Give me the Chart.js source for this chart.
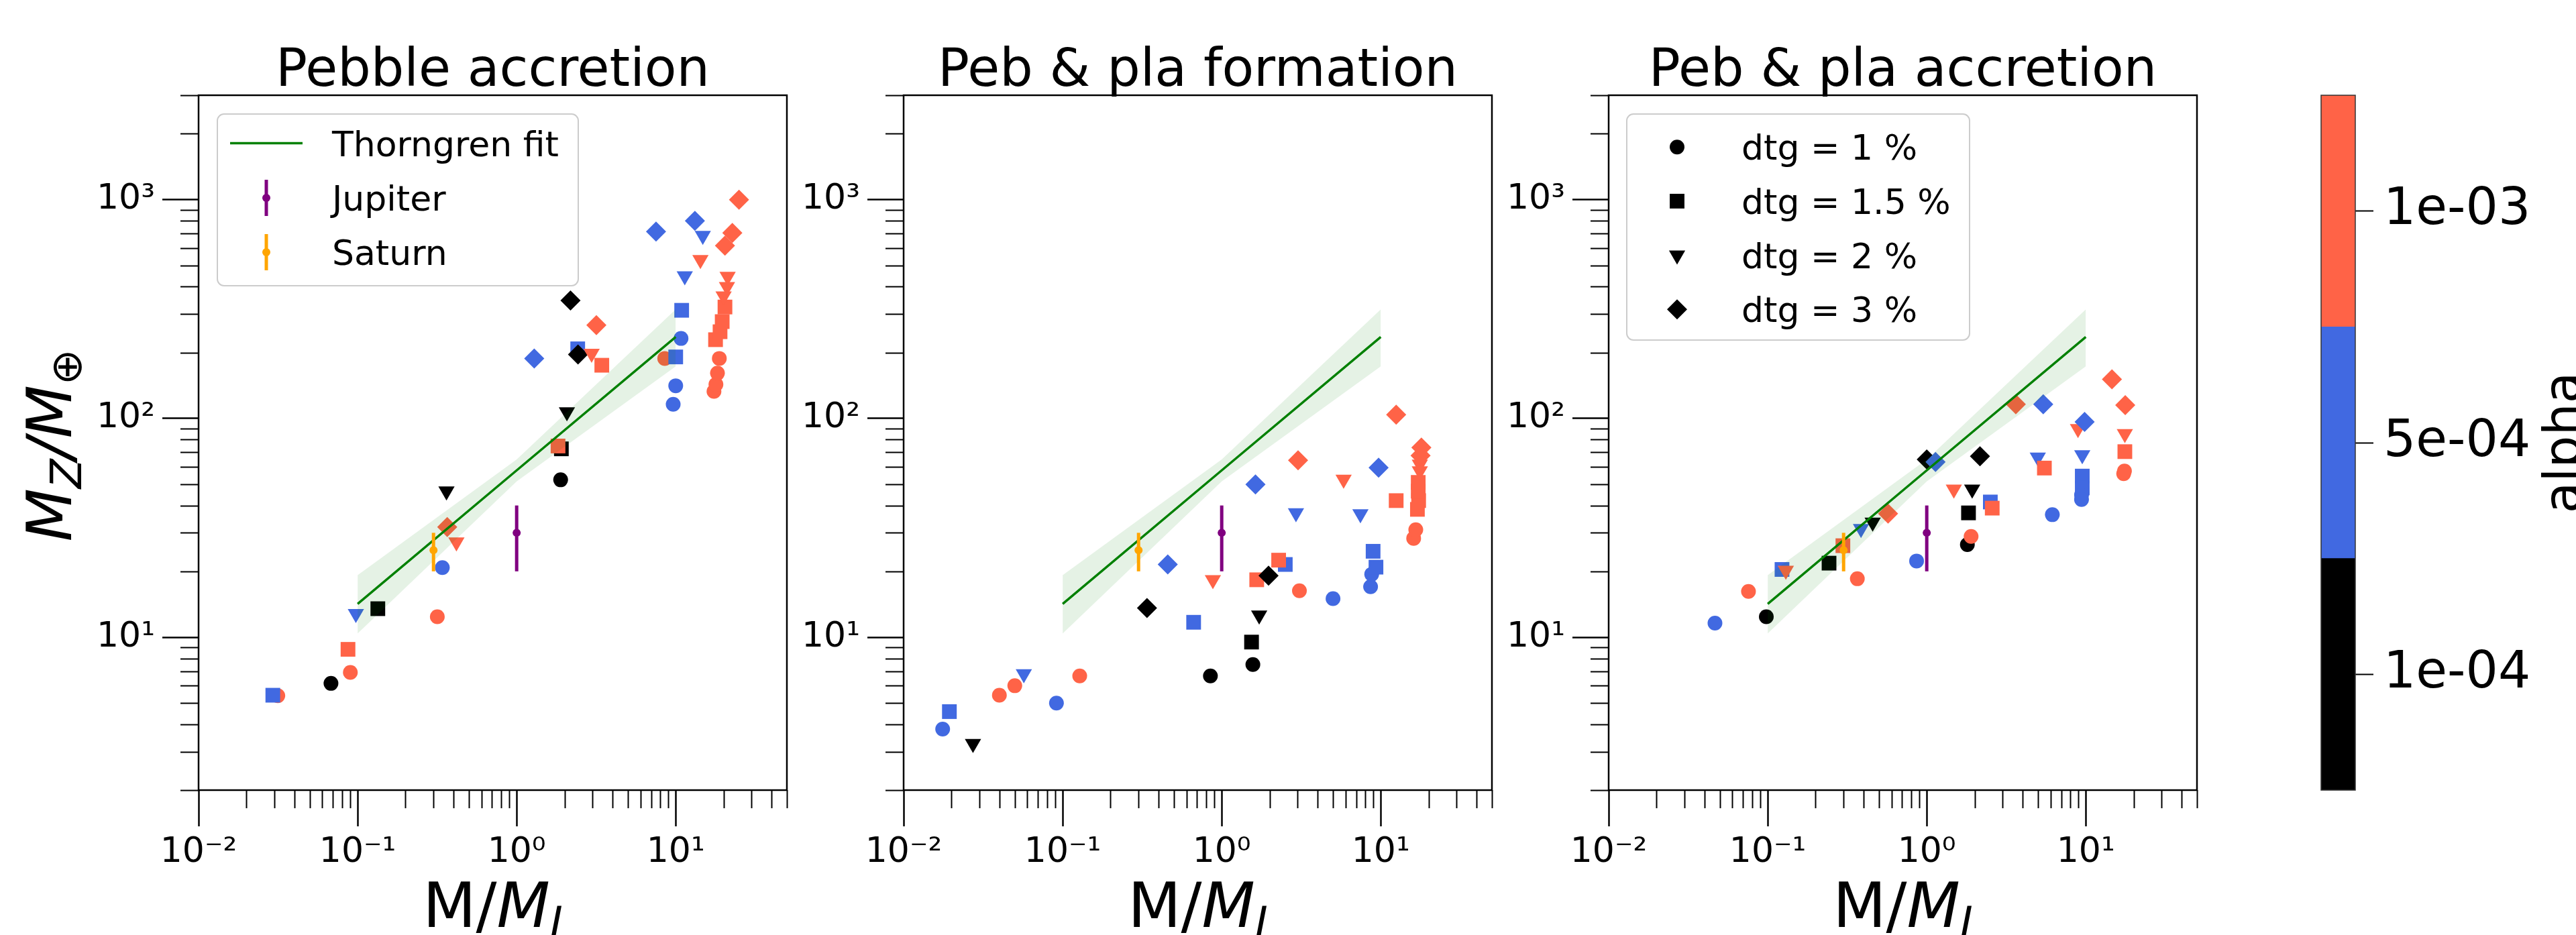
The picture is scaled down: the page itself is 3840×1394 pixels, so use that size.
<!DOCTYPE html>
<html lang="en">
<head>
<meta charset="UTF-8">
<title>Metal mass vs planet mass</title>
<script src="https://cdn.jsdelivr.net/npm/chart.js"></script>
<style>
  html, body { margin: 0; padding: 0; background: #fff; }
  #wrap { position: relative; width: 3840px; height: 1394px; overflow: hidden; background: #fff; }
  canvas { position: absolute; top: 0; }
</style>
</head>
<body>
<div id="wrap">
  <canvas id="p1" width="1213" height="1394" style="left:0px"></canvas>
  <canvas id="p2" width="1213" height="1394" style="left:1051px"></canvas>
  <canvas id="p3" width="1213" height="1394" style="left:2102px"></canvas>
  <canvas id="cbar" width="440" height="1394" style="left:3400px"></canvas>
</div>
<script>
// ---------- data ----------
const panelTitles = ['Pebble accretion', 'Peb & pla formation', 'Peb & pla accretion'];
const alphaLabels = ['1e-04', '5e-04', '1e-03'];
const dtgLabels = ['dtg = 1 %', 'dtg = 1.5 %', 'dtg = 2 %', 'dtg = 3 %'];

const xTicks = [0.01, 0.1, 1, 10];
const xTickLabels = ['10⁻²', '10⁻¹', '10⁰', '10¹'];
const yTicks = [10, 100, 1000];
const yTickLabels = ['10¹', '10²', '10³'];
const xMinor = [0.02, 0.03, 0.04, 0.05, 0.06, 0.07, 0.08, 0.09,
                0.2, 0.3, 0.4, 0.5, 0.6, 0.7, 0.8, 0.9,
                2, 3, 4, 5, 6, 7, 8, 9, 20, 30, 40, 50];
const yMinor = [2, 3, 4, 5, 6, 7, 8, 9, 20, 30, 40, 50, 60, 70, 80, 90,
                200, 300, 400, 500, 600, 700, 800, 900, 2000, 3000];

// Thorngren fit and its uncertainty band
const fitMass  = [0.1, 1, 10];
const fitMz    = [14.2, 57.9, 235.8];
const fitUpper = [19.2, 64.9, 315];
const fitLower = [10.4, 51.5, 173];

// Jupiter and Saturn
const planetNames = ['Jupiter', 'Saturn'];
const planetMass  = [1, 0.3];
const planetMz    = [30, 25];
const planetErr   = [10, 5];

// panel 1: pebble accretion (alpha / dtg are indices into alphaLabels / dtgLabels)
const pebMass  = [0.0315, 0.0293, 0.068, 0.090, 0.087, 0.0975, 0.134, 0.317, 0.341, 0.362, 0.366, 0.418,
                  1.89, 1.91, 1.82, 2.07, 1.29, 2.42, 2.43, 2.18, 2.96, 3.17, 3.43,
                  7.52, 9.64, 10.0, 8.53, 10.0, 10.8, 10.9, 11.4, 13.2, 14.8, 14.3,
                  17.4, 17.9, 18.3, 18.8, 17.8, 19.0, 19.6, 20.4, 20.0, 21.0, 21.2, 20.4, 22.7, 25.0];
const pebMz    = [5.4, 5.43, 6.15, 6.9, 8.8, 12.8, 13.5, 12.4, 20.8, 46.5, 31.9, 27.2,
                  52.4, 72.6, 74.8, 107, 188, 208, 196, 346, 198, 267, 175,
                  714, 116, 141, 188, 191, 232, 312, 448, 800, 685, 531,
                  133, 143, 161, 188, 229, 249, 277, 323, 362, 400, 445, 616, 705, 1000];
const pebAlpha = [2, 1, 0, 2, 2, 1, 0, 2, 1, 0, 2, 2,
                  0, 0, 2, 0, 1, 1, 0, 0, 2, 2, 2,
                  1, 1, 1, 2, 1, 1, 1, 1, 1, 1, 2,
                  2, 2, 2, 2, 2, 2, 2, 2, 2, 2, 2, 2, 2, 2];
const pebDtg   = [0, 1, 0, 0, 1, 2, 1, 0, 0, 2, 3, 2,
                  0, 1, 1, 2, 3, 1, 3, 3, 2, 3, 1,
                  3, 0, 0, 0, 1, 0, 1, 2, 3, 2, 2,
                  0, 0, 0, 0, 1, 1, 1, 1, 2, 2, 2, 3, 3, 3];

// panel 2: pebble & planetesimal formation
const pfMass  = [0.0176, 0.0194, 0.0273, 0.040, 0.050, 0.057, 0.0914, 0.128, 0.339, 0.458, 0.666, 0.849,
                 0.88, 1.54, 1.57, 1.72, 1.63, 2.51, 2.28, 1.66, 1.97, 3.08, 2.93, 3.02,
                 5.01, 5.84, 7.45, 8.63, 8.77, 9.33, 8.95, 9.69, 12.5, 12.5,
                 16.1, 16.6, 17.0, 17.3, 17.2, 17.2, 17.6, 17.6, 17.8, 18.0];
const pfMz    = [3.80, 4.57, 3.26, 5.43, 6.0, 6.8, 5.0, 6.65, 13.6, 21.5, 11.7, 6.65,
                 18.3, 9.5, 7.5, 12.6, 49.9, 21.5, 22.5, 18.3, 19.1, 16.3, 37.0, 64.4,
                 15.0, 52.6, 36.6, 17.0, 19.4, 20.9, 24.7, 59.6, 42.1, 104,
                 28.3, 31.0, 38.4, 42.1, 46.5, 51.0, 57.5, 61.7, 67.6, 73.6];
const pfAlpha = [1, 1, 0, 2, 2, 1, 1, 2, 0, 1, 1, 0,
                 2, 0, 0, 0, 1, 1, 2, 2, 0, 2, 1, 2,
                 1, 2, 1, 1, 1, 1, 1, 1, 2, 2,
                 2, 2, 2, 2, 2, 2, 2, 2, 2, 2];
const pfDtg   = [0, 1, 2, 0, 0, 2, 0, 0, 3, 3, 1, 0,
                 2, 1, 0, 2, 3, 1, 1, 1, 3, 0, 2, 3,
                 0, 2, 2, 0, 0, 1, 1, 3, 1, 3,
                 0, 0, 1, 1, 1, 1, 2, 2, 3, 3];

// panel 3: pebble & planetesimal accretion
const paMass  = [0.0466, 0.0757, 0.098, 0.123, 0.130, 0.243, 0.297, 0.366, 0.386, 0.457, 0.571, 0.863,
                 1.0, 1.135, 1.48, 1.80, 1.90, 1.83, 1.93, 2.16, 2.51, 2.58, 3.63,
                 4.99, 5.49, 5.40, 6.16, 8.93, 9.83, 9.5, 9.5, 9.5, 9.4, 9.4,
                 14.6, 17.7, 17.6, 17.6, 17.3, 17.5];
const paMz    = [11.6, 16.2, 12.4, 20.4, 20.2, 21.8, 26.2, 18.5, 31.3, 33.5, 36.7, 22.3,
                 64.9, 63.2, 47.4, 26.5, 28.9, 37.0, 47.4, 67.2, 41.5, 38.9, 116,
                 66.4, 59.3, 116, 36.3, 89.6, 96.4, 68.1, 54.5, 48.1, 44.7, 42.6,
                 151, 115, 85.0, 70.5, 55.9, 57.5];
const paAlpha = [1, 2, 0, 1, 2, 0, 2, 2, 1, 0, 2, 1,
                 0, 1, 2, 0, 2, 0, 0, 0, 1, 2, 2,
                 1, 2, 1, 1, 2, 1, 1, 1, 1, 1, 1,
                 2, 2, 2, 2, 2, 2];
const paDtg   = [0, 0, 0, 1, 2, 1, 1, 0, 2, 2, 3, 0,
                 3, 3, 2, 0, 0, 1, 2, 3, 1, 1, 3,
                 2, 1, 3, 0, 2, 3, 2, 1, 1, 0, 0,
                 3, 3, 2, 1, 0, 0];

// ---------- styles ----------
const FONT = '"DejaVu Sans", "Liberation Sans", sans-serif';
const alphaColors = ['#000000', '#4169e1', '#ff6347'];
const planetColors = ['#800080', '#ffa500'];
const markerStyle = ['circle', 'rect', 'triangle', 'rectRot'];
const markerRadius = [11, 15.5, 14, 15];
const markerRotation = [0, 0, 180, 0];

function drawMarker(ctx, k, x, y, color) {
  ctx.save();
  ctx.fillStyle = color;
  Chart.helpers.drawPoint(ctx, {
    pointStyle: markerStyle[k], radius: markerRadius[k],
    rotation: markerRotation[k], borderWidth: 0
  }, x, y);
  ctx.restore();
}

function drawRuns(ctx, runs, x, y) {
  let w = 0;
  runs.forEach(r => { ctx.font = r.font; w += ctx.measureText(r.text).width; });
  let cx = x - w / 2;
  runs.forEach(r => {
    ctx.font = r.font;
    ctx.fillText(r.text, cx, y + (r.dy || 0));
    cx += ctx.measureText(r.text).width;
  });
}

function roundBox(ctx, x, y, w, h, r) {
  ctx.beginPath();
  ctx.moveTo(x + r, y);
  ctx.arcTo(x + w, y, x + w, y + h, r);
  ctx.arcTo(x + w, y + h, x, y + h, r);
  ctx.arcTo(x, y + h, x, y, r);
  ctx.arcTo(x, y, x + w, y, r);
  ctx.closePath();
  ctx.fillStyle = 'rgba(255,255,255,0.8)';
  ctx.fill();
  ctx.strokeStyle = '#cccccc';
  ctx.lineWidth = 2;
  ctx.stroke();
}

const panelDecor = {
  id: 'panelDecor',
  afterDraw(chart, args, opts) {
    const ctx = chart.ctx;
    const a = chart.chartArea;
    const sx = chart.scales.x, sy = chart.scales.y;
    ctx.save();
    // frame
    ctx.strokeStyle = '#000';
    ctx.lineWidth = 2.5;
    ctx.strokeRect(a.left, a.top, a.right - a.left, a.bottom - a.top);
    // minor ticks
    ctx.lineWidth = 2;
    ctx.beginPath();
    xMinor.forEach(v => {
      const px = Math.round(sx.getPixelForValue(v)) + 0.5;
      ctx.moveTo(px, a.bottom); ctx.lineTo(px, a.bottom + 27);
    });
    yMinor.forEach(v => {
      const py = Math.round(sy.getPixelForValue(v)) + 0.5;
      ctx.moveTo(a.left - 27, py); ctx.lineTo(a.left, py);
    });
    ctx.stroke();

    ctx.fillStyle = '#000';
    ctx.textAlign = 'left';
    ctx.textBaseline = 'alphabetic';
    const cx = (a.left + a.right) / 2;
    // title
    ctx.font = '78px ' + FONT;
    ctx.textAlign = 'center';
    ctx.fillText(opts.title, cx, 128);
    ctx.textAlign = 'left';
    // x label
    drawRuns(ctx, [
      { text: 'M/', font: '92px ' + FONT },
      { text: 'M', font: 'italic 92px ' + FONT },
      { text: 'J', font: 'italic 64px ' + FONT, dy: 15 }
    ], cx, 1382);
    // y label
    if (opts.ylabel) {
      ctx.save();
      ctx.translate(106, (a.top + a.bottom) / 2 + 4);
      ctx.rotate(-Math.PI / 2);
      drawRuns(ctx, [
        { text: 'M', font: 'italic 92px ' + FONT },
        { text: 'Z', font: 'italic 64px ' + FONT, dy: 15 },
        { text: '/', font: 'italic 92px ' + FONT },
        { text: 'M', font: 'italic 92px ' + FONT },
        { text: '⊕', font: '64px ' + FONT, dy: 15 }
      ], 0, 0);
      ctx.restore();
    }
    // legends
    if (opts.legend === 'fit') {
      roundBox(ctx, a.left + 28, a.top + 28, 538, 256, 10);
      const rows = [71.6, 153, 234];
      ctx.font = '52px ' + FONT;
      ctx.fillStyle = '#000';
      ctx.fillText('Thorngren fit', a.left + 199, a.top + rows[0] + 19);
      ctx.strokeStyle = '#008000';
      ctx.lineWidth = 3.5;
      ctx.beginPath();
      ctx.moveTo(a.left + 47, a.top + rows[0]);
      ctx.lineTo(a.left + 155, a.top + rows[0]);
      ctx.stroke();
      planetNames.forEach((n, i) => {
        const ry = a.top + rows[i + 1];
        ctx.strokeStyle = planetColors[i];
        ctx.lineWidth = 5;
        ctx.beginPath();
        ctx.moveTo(a.left + 101, ry - 27);
        ctx.lineTo(a.left + 101, ry + 27);
        ctx.stroke();
        ctx.fillStyle = planetColors[i];
        ctx.beginPath();
        ctx.arc(a.left + 101, ry, 6, 0, Math.PI * 2);
        ctx.fill();
        ctx.fillStyle = '#000';
        ctx.fillText(n, a.left + 199, ry + 19);
      });
    } else if (opts.legend === 'dtg') {
      roundBox(ctx, a.left + 27, a.top + 28, 511, 337, 10);
      const rows = [77.3, 157.9, 238.6, 319.3];
      ctx.font = '52px ' + FONT;
      dtgLabels.forEach((t, k) => {
        const ry = a.top + rows[k];
        drawMarker(ctx, k, a.left + 102, ry, '#000');
        ctx.fillStyle = '#000';
        ctx.font = '52px ' + FONT;
        ctx.fillText(t, a.left + 198, ry + 19);
      });
    }
    ctx.restore();
  }
};

function makePanel(id, idx, mass, mz, alpha, dtg, legend) {
  const pts = mass.map((m, i) => ({ x: m, y: mz[i] }));
  const pick = (arr, c) => arr[(c.dataIndex !== undefined ? c.dataIndex : 0)];
  const datasets = [
    {
      type: 'scatter', label: 'runs', data: pts, order: 5,
      pointStyle: c => markerStyle[pick(dtg, c)],
      pointRadius: c => markerRadius[pick(dtg, c)],
      pointRotation: c => markerRotation[pick(dtg, c)],
      pointBackgroundColor: c => alphaColors[pick(alpha, c)],
      pointBorderWidth: 0
    },
    {
      type: 'line', label: 'band low', order: 4,
      data: fitMass.map((m, i) => ({ x: m, y: fitLower[i] })),
      borderWidth: 0, pointRadius: 0, fill: false
    },
    {
      type: 'line', label: 'band high', order: 4,
      data: fitMass.map((m, i) => ({ x: m, y: fitUpper[i] })),
      borderWidth: 0, pointRadius: 0, fill: '-1',
      backgroundColor: 'rgba(0,128,0,0.1)'
    },
    {
      type: 'line', label: 'Thorngren fit', order: 3,
      data: fitMass.map((m, i) => ({ x: m, y: fitMz[i] })),
      borderColor: '#008000', borderWidth: 3.5, pointRadius: 0, fill: false
    }
  ];
  planetNames.forEach((n, i) => {
    datasets.push({
      type: 'line', label: n, order: 1,
      data: [
        { x: planetMass[i], y: planetMz[i] - planetErr[i] },
        { x: planetMass[i], y: planetMz[i] },
        { x: planetMass[i], y: planetMz[i] + planetErr[i] }
      ],
      borderColor: planetColors[i], borderWidth: 5, fill: false,
      pointRadius: [0, 6, 0], pointBackgroundColor: planetColors[i], pointBorderWidth: 0
    });
  });

  return new Chart(document.getElementById(id), {
    type: 'scatter',
    data: { datasets },
    options: {
      responsive: false, animation: false, events: [],
      layout: { padding: { top: 142, right: 40, left: 0, bottom: 0 } },
      plugins: {
        legend: { display: false }, tooltip: { enabled: false },
        filler: { drawTime: 'beforeDatasetDraw' },
        panelDecor: { title: panelTitles[idx], ylabel: idx === 0, legend }
      },
      scales: {
        x: {
          type: 'logarithmic', min: 0.01, max: 50, position: 'bottom',
          afterFit(s) { s.height = 216; },
          afterBuildTicks(s) { s.ticks = xTicks.map(v => ({ value: v, major: true })); },
          ticks: {
            callback: (v, i) => xTickLabels[i], autoSkip: false, maxRotation: 0,
            font: { family: FONT, size: 52 }, color: '#000', padding: 8
          },
          grid: { drawOnChartArea: false, tickLength: 54, tickWidth: 2.5, tickColor: '#000' },
          border: { display: false }
        },
        y: {
          type: 'logarithmic', min: 2, max: 3000, position: 'left',
          afterFit(s) { s.width = 296; },
          afterBuildTicks(s) { s.ticks = yTicks.map(v => ({ value: v, major: true })); },
          ticks: {
            callback: (v, i) => yTickLabels[i], autoSkip: false,
            font: { family: FONT, size: 52 }, color: '#000', padding: 11
          },
          grid: { drawOnChartArea: false, tickLength: 54, tickWidth: 2.5, tickColor: '#000' },
          border: { display: false }
        }
      }
    },
    plugins: [panelDecor]
  });
}

makePanel('p1', 0, pebMass, pebMz, pebAlpha, pebDtg, 'fit');
makePanel('p2', 1, pfMass, pfMz, pfAlpha, pfDtg, null);
makePanel('p3', 2, paMass, paMz, paAlpha, paDtg, 'dtg');

// ---------- colorbar ----------
const cbarDecor = {
  id: 'cbarDecor',
  afterDraw(chart) {
    const ctx = chart.ctx;
    const a = chart.chartArea;
    ctx.save();
    ctx.strokeStyle = '#333';
    ctx.lineWidth = 1.5;
    ctx.strokeRect(a.left, a.top, a.right - a.left, a.bottom - a.top);
    ctx.fillStyle = '#000';
    ctx.font = '76px ' + FONT;
    ctx.translate(446, (a.top + a.bottom) / 2);
    ctx.rotate(-Math.PI / 2);
    ctx.textAlign = 'center';
    ctx.textBaseline = 'alphabetic';
    ctx.fillText('alpha', 0, 0);
    ctx.restore();
  }
};

new Chart(document.getElementById('cbar'), {
  type: 'bar',
  data: {
    labels: ['alpha'],
    datasets: alphaLabels.map((l, i) => ({
      label: l, data: [1], backgroundColor: alphaColors[i],
      barPercentage: 1, categoryPercentage: 1, borderWidth: 0
    }))
  },
  options: {
    responsive: false, animation: false, events: [],
    layout: { padding: { left: 60, top: 142, bottom: 216, right: 0 } },
    plugins: { legend: { display: false }, tooltip: { enabled: false } },
    scales: {
      x: { display: false, stacked: true },
      y: {
        stacked: true, position: 'right', min: 0, max: 3,
        afterFit(s) { s.width = 329; },
        afterBuildTicks(s) { s.ticks = [0.5, 1.5, 2.5].map(v => ({ value: v })); },
        ticks: {
          callback: (v, i) => alphaLabels[i],
          font: { family: FONT, size: 76 }, color: '#000', padding: 15
        },
        grid: { drawOnChartArea: false, tickLength: 27, tickWidth: 2, tickColor: '#000' },
        border: { display: false }
      }
    }
  },
  plugins: [cbarDecor]
});
</script>
</body>
</html>
